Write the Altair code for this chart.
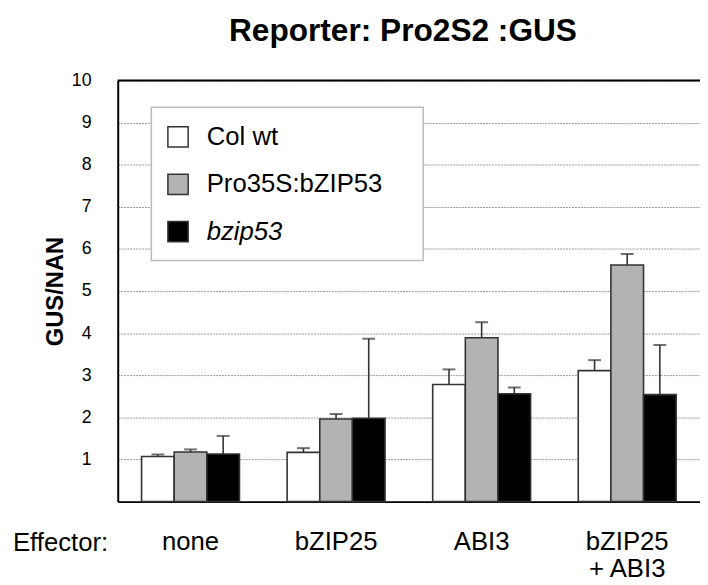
import altair as alt
import pandas as pd

# ---- data ----
effectors = ["none", "bZIP25", "ABI3", "bZIP25\n+ ABI3"]
series = ["Col wt", "Pro35S:bZIP53", "bzip53"]
col_wt = [1.07, 1.17, 2.78, 3.11]
col_wt_err = [0.05, 0.10, 0.36, 0.25]
pro35s = [1.18, 1.96, 3.89, 5.62]
pro35s_err = [0.06, 0.12, 0.37, 0.26]
bzip53 = [1.13, 1.98, 2.56, 2.54]
bzip53_err = [0.43, 1.89, 0.15, 1.18]
y_ticks = [1, 2, 3, 4, 5, 6, 7, 8, 9, 10]
title_text = "Reporter: Pro2S2 :GUS"
y_title = "GUS/NAN"
x_prefix = "Effector:"
fills = ["#ffffff", "#b3b3b3", "#000000"]

rows = []
for s, vals, errs in [(series[0], col_wt, col_wt_err),
                      (series[1], pro35s, pro35s_err),
                      (series[2], bzip53, bzip53_err)]:
    for e, v, er in zip(effectors, vals, errs):
        rows.append({"effector": e, "series": s, "value": v, "hi": v + er})
df = pd.DataFrame(rows)

FONT = "Liberation Sans"
W, H = 589, 426

x_enc = alt.X("effector:N", sort=effectors,
              scale=alt.Scale(paddingInner=0, paddingOuter=0),
              axis=alt.Axis(title=None, labelAngle=0, labelFontSize=26, labelFont=FONT,
                            labelColor="black", labelPadding=27, ticks=False,
                            domainColor="black", domainWidth=2, labelLineHeight=28,
                            labelExpr="split(datum.label, '\\n')", grid=False))
xoff = alt.XOffset("series:N", sort=series,
                   scale=alt.Scale(paddingInner=0, paddingOuter=0.73))
y_scale = alt.Scale(domain=[0, 10], nice=False)

base = alt.Chart(df)

bars = base.mark_bar(stroke="#333333", strokeWidth=1.6).encode(
    x=x_enc,
    xOffset=xoff,
    y=alt.Y("value:Q", scale=y_scale,
            axis=alt.Axis(values=y_ticks, title=y_title, titleFont=FONT, titleFontSize=24,
                          titleFontWeight="bold", titleColor="black", titlePadding=4,
                          labelFont=FONT, labelFontSize=18, labelColor="black",
                          labelPadding=27, ticks=False, domainColor="black", domainWidth=2,
                          grid=True, gridColor="#999999", gridDash=[2, 1], gridWidth=1)),
    fill=alt.Fill("series:N", sort=series,
                  scale=alt.Scale(domain=series, range=fills),
                  legend=alt.Legend(title=None, orient="none", legendX=48, legendY=44,
                                    direction="vertical", symbolType="square",
                                    symbolSize=420, symbolStrokeColor="#333333",
                                    symbolStrokeWidth=1.5, labelFont=FONT,
                                    labelFontSize=26, labelColor="black", labelLimit=400,
                                    labelOffset=16, rowPadding=20, padding=0,
                                    labelFontStyle={"expr": "datum.label == 'bzip53' ? 'italic' : 'normal'"})),
)

err = base.mark_rule(color="#333333", strokeWidth=1.6).encode(
    x=alt.X("effector:N", sort=effectors), xOffset=xoff,
    y=alt.Y("value:Q"), y2="hi:Q")

caps = base.mark_tick(color="#333333", orient="horizontal", size=13, thickness=2).encode(
    x=alt.X("effector:N", sort=effectors), xOffset=xoff,
    y=alt.Y("hi:Q"))

one = pd.DataFrame({"t": [x_prefix]})
legend_box = alt.Chart(one).mark_rect(fill="white", stroke="#bbbbbb", strokeWidth=1.5).encode(
    x=alt.value(34), x2=alt.value(309), y=alt.value(27), y2=alt.value(182))

top_rule = alt.Chart(one).mark_rule(color="black", strokeWidth=2).encode(
    x=alt.value(0), x2=alt.value(W + 2), y=alt.value(0))

prefix = alt.Chart(one).mark_text(font=FONT, fontSize=26, align="left",
                                  baseline="alphabetic", color="black").encode(
    x=alt.value(-106), y=alt.value(476), text="t:N")

chart = alt.layer(legend_box, bars, err, caps, top_rule, prefix).properties(
    width=W, height=H,
    title=alt.Title(title_text, font=FONT, fontSize=32, fontWeight="bold",
                    color="black", anchor="middle", offset=24, dx=-6),
    autosize=alt.AutoSizeParams(type="none"),
    padding={"left": 111, "top": 70, "right": 0, "bottom": 80},
).configure_view(stroke=None).configure(background="white")

chart.save("out.html", embed_options={"renderer": "svg", "actions": False})
